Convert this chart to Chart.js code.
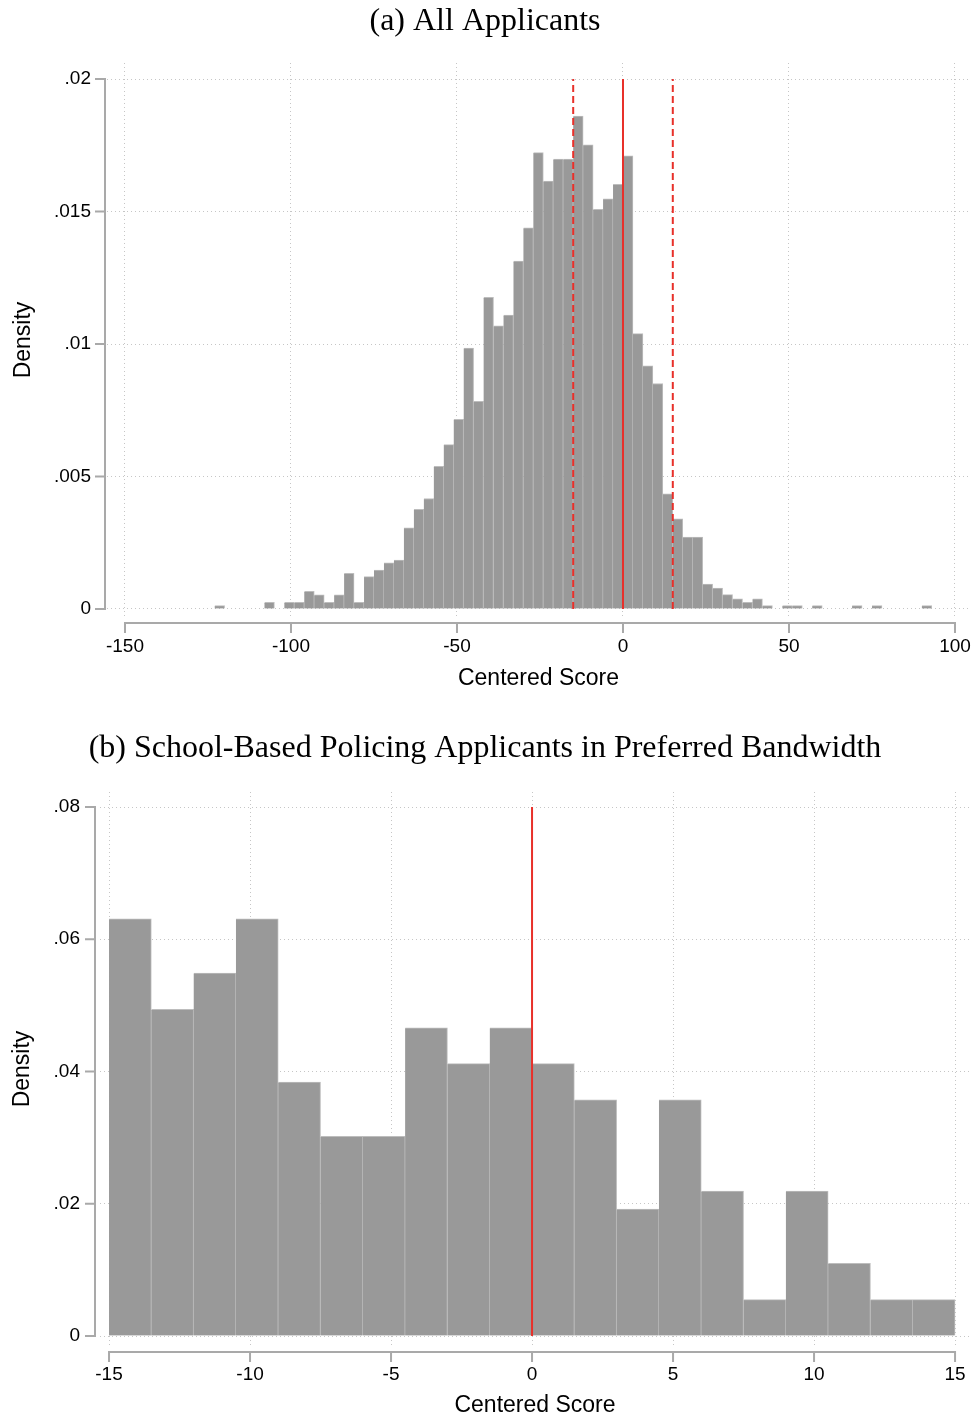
<!DOCTYPE html>
<html>
<head>
<meta charset="utf-8">
<title>Centered score histograms</title>
<script src="https://cdn.jsdelivr.net/npm/chart.js@4.4.1/dist/chart.umd.min.js"></script>
<style>
  html, body { margin: 0; padding: 0; background: #ffffff; }
  canvas { display: block; }
</style>
</head>
<body>
<canvas id="allChart" width="974" height="727"></canvas>
<canvas id="sbpChart" width="974" height="695"></canvas>
<script>
// ---- Panel (a): all applicants, bins of width 3 starting at -123 ----
const allBinStart = -123;
const allBinWidth = 3;
const allDensity = [
  0.00013, 0, 0, 0, 0, 0.00025, 0, 0.00025, 0.00025, 0.00067,
  0.00053, 0.00025, 0.00053, 0.00135, 0.00025, 0.00122, 0.00147, 0.00174, 0.00185, 0.00306,
  0.00376, 0.00417, 0.00538, 0.00620, 0.00716, 0.00985, 0.00784, 0.01176, 0.01069, 0.01109,
  0.01313, 0.01438, 0.01722, 0.01615, 0.01698, 0.01698, 0.01860, 0.01752, 0.01508, 0.01548,
  0.01603, 0.01710, 0.01039, 0.00918, 0.00851, 0.00435, 0.00340, 0.00271, 0.00271, 0.00094,
  0.00079, 0.00054, 0.00038, 0.00025, 0.00038, 0.00013, 0, 0.00013, 0.00013, 0,
  0.00013, 0, 0, 0, 0.00013, 0, 0.00013, 0, 0, 0,
  0, 0.00013
];
const allXTicks = [-150, -100, -50, 0, 50, 100];
const allXTickLabels = ['-150', '-100', '-50', '0', '50', '100'];
const allYTicks = [0, 0.005, 0.01, 0.015, 0.02];
const allYTickLabels = ['0', '.005', '.01', '.015', '.02'];
const allCutoff = [0];
const allBandEdges = [-15, 15];

// ---- Panel (b): school-based policing applicants within +/-15, bins of width 1.5 ----
const sbpBinStart = -15;
const sbpBinWidth = 1.5;
const sbpDensity = [
  0.0631, 0.0494, 0.0549, 0.0631, 0.0384, 0.0302, 0.0302, 0.0466, 0.0412, 0.0466,
  0.0412, 0.0357, 0.0192, 0.0357, 0.0219, 0.0055, 0.0219, 0.0110, 0.0055, 0.0055
];
const sbpXTicks = [-15, -10, -5, 0, 5, 10, 15];
const sbpXTickLabels = ['-15', '-10', '-5', '0', '5', '10', '15'];
const sbpYTicks = [0, 0.02, 0.04, 0.06, 0.08];
const sbpYTickLabels = ['0', '.02', '.04', '.06', '.08'];
const sbpCutoff = [0];
const sbpBandEdges = [];

// ---- shared styling ----
const BAR_FILL = '#999999';
const BAR_EDGE = '#bdbdbd';
const GRID = '#c6c6c6';
const AXIS = '#a9a9a9';
const CUTOFF_RED = '#e8302a';
const SANS = "'Liberation Sans', Arial, Helvetica, sans-serif";
const SERIF = "'Liberation Serif', 'Times New Roman', serif";

Chart.defaults.font.family = SANS;
Chart.defaults.color = '#000000';

// Axis lines that run only from the first to the last tick, set slightly apart
// from the plot region, with outward tick marks.
const detachedAxes = {
  id: 'detachedAxes',
  afterDraw(chart, args, opts) {
    const { ctx, chartArea, scales: { x, y } } = chart;
    const ax = chartArea.left - opts.yGap;
    const ay = chartArea.bottom + opts.xGap;
    ctx.save();
    ctx.strokeStyle = opts.color;
    ctx.lineWidth = opts.width;
    ctx.lineCap = 'square';
    ctx.setLineDash([]);
    ctx.beginPath();
    const yPix = opts.yTicks.map(v => y.getPixelForValue(v));
    ctx.moveTo(ax, Math.min(...yPix));
    ctx.lineTo(ax, Math.max(...yPix));
    yPix.forEach(p => { ctx.moveTo(ax - opts.tickLen, p); ctx.lineTo(ax, p); });
    const xPix = opts.xTicks.map(v => x.getPixelForValue(v));
    ctx.moveTo(Math.min(...xPix), ay);
    ctx.lineTo(Math.max(...xPix), ay);
    xPix.forEach(p => { ctx.moveTo(p, ay); ctx.lineTo(p, ay + opts.tickLen); });
    ctx.stroke();
    ctx.restore();
  }
};

function verticalLine(xValue, yTop, dashed) {
  return {
    type: 'line',
    data: [{ x: xValue, y: 0 }, { x: xValue, y: yTop }],
    borderColor: CUTOFF_RED,
    borderWidth: 2,
    borderDash: dashed ? [7, 4] : [],
    pointRadius: 0,
    fill: false,
    order: 0
  };
}

function makeHistogram(canvasId, s) {
  const bars = s.density
    .map((d, i) => ({ x: s.binStart + (i + 0.5) * s.binWidth, y: d }))
    .filter(p => p.y > 0);
  const yTop = s.yTicks[s.yTicks.length - 1];
  const datasets = [
    ...s.cutoff.map(v => verticalLine(v, yTop, false)),
    ...s.bandEdges.map(v => verticalLine(v, yTop, true)),
    {
      type: 'bar',
      data: bars,
      backgroundColor: BAR_FILL,
      borderColor: BAR_EDGE,
      borderWidth: { top: 1, right: 1, bottom: 0, left: 0 },
      barPercentage: 1,
      categoryPercentage: 1,
      order: 1
    }
  ];

  return new Chart(document.getElementById(canvasId), {
    type: 'bar',
    data: { datasets },
    options: {
      responsive: false,
      animation: false,
      events: [],
      layout: { padding: { left: 0, right: 974 - s.areaRight, top: 0, bottom: 0 } },
      plugins: {
        legend: { display: false },
        tooltip: { enabled: false },
        title: {
          display: true,
          text: s.title,
          color: '#000000',
          font: { family: SERIF, size: 32, weight: 'normal' },
          padding: { top: 2, bottom: s.titleGap }
        },
        detachedAxes: {
          color: AXIS, width: 2, tickLen: 9,
          yGap: s.yAxisGap, xGap: 6,
          xTicks: s.xTicks, yTicks: s.yTicks
        }
      },
      scales: {
        x: {
          type: 'linear',
          min: s.xMin,
          max: s.xMax,
          offset: false,
          afterBuildTicks: scale => { scale.ticks = s.xTicks.map(v => ({ value: v })); },
          afterFit: scale => { scale.height = s.xAxisHeight; },
          ticks: {
            autoSkip: false,
            maxRotation: 0,
            padding: 0,
            font: { size: 19 },
            callback: v => s.xTickLabels[s.xTicks.indexOf(v)]
          },
          grid: {
            offset: false,
            color: GRID,
            lineWidth: 1,
            drawTicks: true,
            tickLength: s.xLabelGap,
            tickColor: 'rgba(0,0,0,0)'
          },
          border: { display: false, dash: [1, 3] },
          title: {
            display: true,
            text: 'Centered Score',
            font: { size: 23 },
            padding: { top: 0, bottom: s.xTitleGap }
          }
        },
        y: {
          type: 'linear',
          min: s.yMin,
          max: s.yMax,
          afterBuildTicks: scale => { scale.ticks = s.yTicks.map(v => ({ value: v })); },
          afterFit: scale => { scale.width = s.yAxisWidth; },
          ticks: {
            padding: s.yLabelGap,
            font: { size: 19 },
            callback: v => s.yTickLabels[s.yTicks.indexOf(v)]
          },
          grid: {
            color: GRID,
            lineWidth: 1,
            drawTicks: false
          },
          border: { display: false, dash: [1, 3] },
          title: {
            display: true,
            text: 'Density',
            font: { size: 23 },
            padding: { top: s.yTitleGap, bottom: 0 }
          }
        }
      }
    },
    plugins: [detachedAxes]
  });
}

makeHistogram('allChart', {
  title: '(a) All Applicants',
  binStart: allBinStart, binWidth: allBinWidth, density: allDensity,
  xTicks: allXTicks, xTickLabels: allXTickLabels,
  yTicks: allYTicks, yTickLabels: allYTickLabels,
  cutoff: allCutoff, bandEdges: allBandEdges,
  xMin: -155.42, xMax: 104.52, yMin: -0.000302, yMax: 0.020604,
  areaRight: 970, yAxisWidth: 107, xAxisHeight: 110,
  titleGap: 22.6, xLabelGap: 18.6, xTitleGap: 34.2,
  yLabelGap: 16, yTitleGap: 10.2, yAxisGap: 2
});

makeHistogram('sbpChart', {
  title: '(b) School-Based Policing Applicants in Preferred Bandwidth',
  binStart: sbpBinStart, binWidth: sbpBinWidth, density: sbpDensity,
  xTicks: sbpXTicks, xTickLabels: sbpXTickLabels,
  yTicks: sbpYTicks, yTickLabels: sbpYTickLabels,
  cutoff: sbpCutoff, bandEdges: sbpBandEdges,
  xMin: -15.32, xMax: 15.53, yMin: -0.00151, yMax: 0.08227,
  areaRight: 970, yAxisWidth: 100, xAxisHeight: 76,
  titleGap: 24.6, xLabelGap: 17.6, xTitleGap: 2.2,
  yLabelGap: 20, yTitleGap: 9.2, yAxisGap: 5
});
</script>
</body>
</html>
